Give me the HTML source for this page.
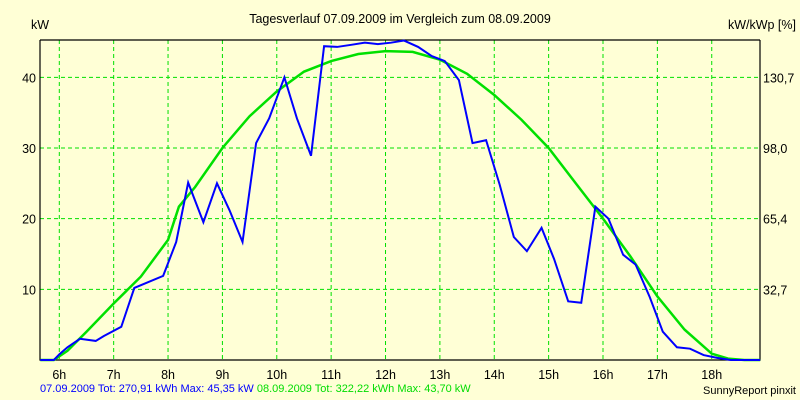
<!DOCTYPE html>
<html><head><meta charset="utf-8"><style>
html,body{margin:0;padding:0;background:#FFFFD6;}
svg{display:block;font-family:"Liberation Sans",sans-serif;}
</style></head><body>
<svg id="chart" width="800" height="400" viewBox="0 0 800 400">
<rect x="0" y="0" width="800" height="400" fill="#FFFFD6"/>
<text x="400" y="23" text-anchor="middle" font-size="12.5">Tagesverlauf 07.09.2009 im Vergleich zum 08.09.2009</text>
<text x="31" y="29" font-size="12.5">kW</text>
<text x="796" y="29" text-anchor="end" font-size="12.5">kW/kWp [%]</text>
<g id="grid"></g><g id="axes"></g><g id="series"></g>
<text x="40" y="392" font-size="11"><tspan fill="#0000FF">07.09.2009 Tot: 270,91 kWh Max: 45,35 kW </tspan><tspan fill="#00DD00">08.09.2009 Tot: 322,22 kWh Max: 43,70 kW</tspan></text>
<text x="796" y="394" text-anchor="end" font-size="11">SunnyReport pinxit</text>
</svg>
<script>
const hourTicks=[6,7,8,9,10,11,12,13,14,15,16,17,18];
const yTicks=[10,20,30,40];
const y2Labels=["32,7","65,4","98,0","130,7"];
const blueHours=[5.65,5.9,6.0,6.15,6.38,6.67,6.82,7.14,7.38,7.91,8.15,8.37,8.65,8.9,9.13,9.37,9.62,9.86,10.14,10.37,10.63,10.87,11.11,11.37,11.62,11.86,12.1,12.34,12.6,12.85,13.09,13.35,13.6,13.85,14.1,14.36,14.6,14.87,15.1,15.36,15.6,15.86,16.1,16.37,16.6,16.86,17.1,17.36,17.6,17.85,18.1,18.35,18.89];
const blueKW=[0,0,0.8,1.8,3.0,2.7,3.4,4.7,10.2,11.9,16.7,25.1,19.5,25,21.2,16.7,30.7,34.2,40,34.2,28.9,44.4,44.3,44.6,44.9,44.7,44.9,45.2,44.3,43,42.3,39.6,30.7,31.1,24.8,17.4,15.4,18.7,14.3,8.3,8.1,21.7,20,14.9,13.5,8.9,4.0,1.8,1.6,0.7,0.3,0,0];
const greenHours=[5.65,5.9,6.15,6.5,7,7.5,8,8.2,8.5,9,9.5,10,10.5,11,11.5,12,12.5,13,13.5,14,14.5,15,15.5,16,16.5,17,17.5,18,18.3,18.6,18.89];
const greenKW=[0,0,1.3,4,8,11.8,17,21.7,24.5,30,34.5,38,40.8,42.3,43.3,43.7,43.6,42.5,40.5,37.5,34,30,25,20,14.7,9,4.3,0.9,0.2,0,0];
const L=40,R=760,T=40,B=360;
const xs=h=>59.3+(h-6)*54.37;
const ys=v=>B-v*7.067;
const NS="http://www.w3.org/2000/svg";
const grid=document.getElementById('grid'),axes=document.getElementById('axes'),series=document.getElementById('series');
function mk(tag,attrs,parent){const e=document.createElementNS(NS,tag);for(const k in attrs)e.setAttribute(k,attrs[k]);parent.appendChild(e);return e;}
hourTicks.forEach(h=>{
 const l=mk('line',{x1:xs(h),x2:xs(h),y1:T,y2:B,stroke:'#00E000','stroke-dasharray':'4 3','stroke-width':1},grid);
 
 
 const t=mk('text',{x:xs(h),y:B+19,'text-anchor':'middle','font-size':12.5},axes);
 t.textContent=h+'h';
 
 
});
yTicks.forEach((v,i)=>{
 const l=mk('line',{x1:L,x2:R,y1:ys(v),y2:ys(v),stroke:'#00E000','stroke-dasharray':'4 3','stroke-width':1},grid);
 
 
 const t=mk('text',{x:L-4,y:ys(v)+5,'text-anchor':'end','font-size':12.5},axes);
 t.textContent=v;
 
 
 const t2=mk('text',{x:R+3,y:ys(v)+5,'font-size':12.5},axes);
 t2.textContent=y2Labels[i];
 
 
});
const ax=mk('path',{d:`M${L},${T} V${B} H${R} V${T} M${L},${T} H${R}`,fill:'none',stroke:'#000','stroke-width':1.2},axes);


const gp=mk('polyline',{points:greenHours.map((h,i)=>xs(h)+','+ys(greenKW[i])).join(' '),fill:'none',stroke:'#00E000','stroke-width':2.5},series);


const bp=mk('polyline',{points:blueHours.map((h,i)=>xs(h)+','+ys(blueKW[i])).join(' '),fill:'none',stroke:'#0000FF','stroke-width':2},series);


</script>
</body></html>
